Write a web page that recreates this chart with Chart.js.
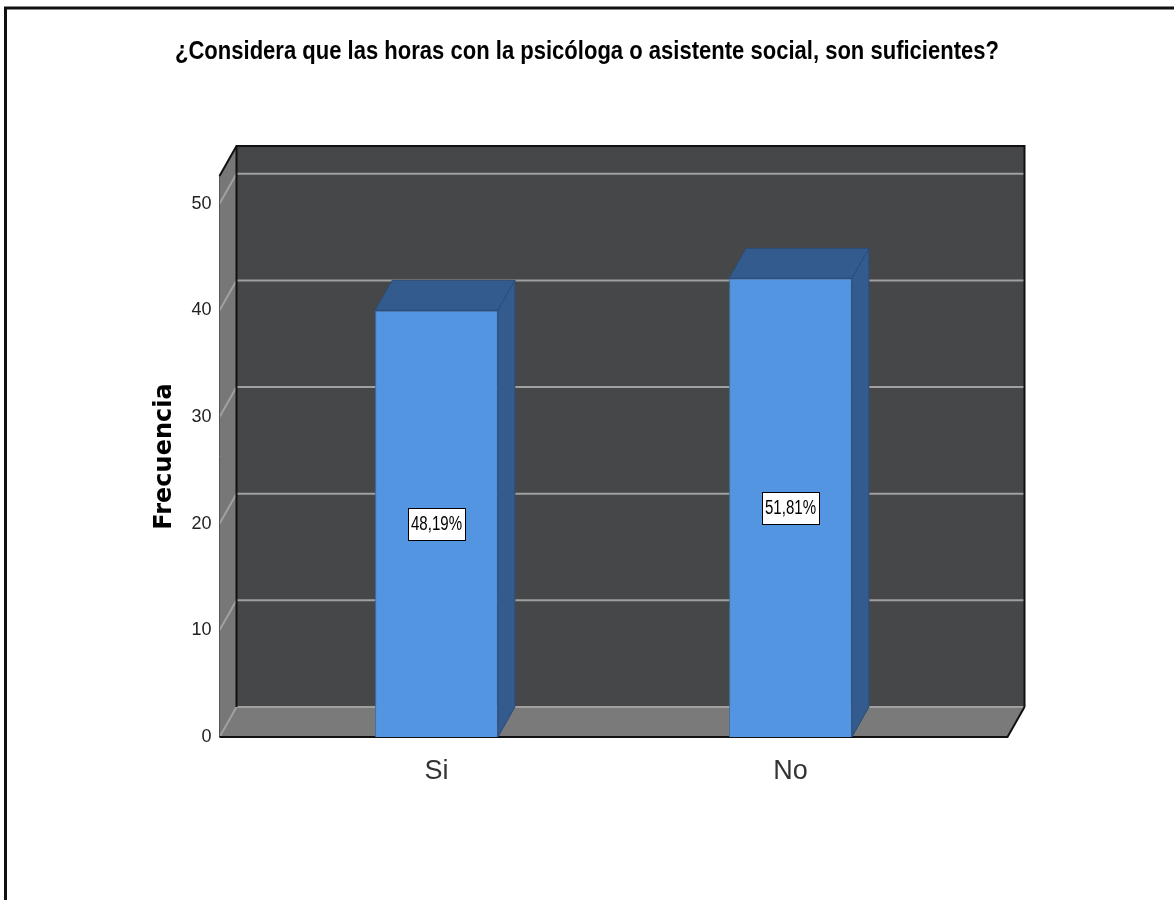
<!DOCTYPE html>
<html>
<head>
<meta charset="utf-8">
<script src="https://cdn.jsdelivr.net/npm/chart.js@4.4.1/dist/chart.umd.min.js"></script>
<style>
  html, body { margin: 0; padding: 0; background: #fff; }
  #wrap { width: 1174px; height: 900px; }
</style>
</head>
<body>
<div id="wrap"><canvas id="chart1" width="1174" height="900"></canvas></div>
<script>
// data
var categories = ['Si', 'No'];
var frecuencias = [40, 43];
var porcentajes = ['48,19%', '51,81%'];
var yTicks = [0, 10, 20, 30, 40, 50];

var FONT = "'Liberation Sans', Arial, sans-serif";
var DX = 17, DY = -30, EXT = 40;   // fake depth of the 3d box

function poly(ctx, pts, fill, stroke) {
  ctx.beginPath();
  ctx.moveTo(pts[0][0], pts[0][1]);
  for (var i = 1; i < pts.length; i++) ctx.lineTo(pts[i][0], pts[i][1]);
  ctx.closePath();
  if (fill) { ctx.fillStyle = fill; ctx.fill(); }
  if (stroke) { ctx.strokeStyle = stroke; ctx.lineWidth = 1; ctx.stroke(); }
}

function line(ctx, pts, color, w) {
  ctx.beginPath();
  ctx.moveTo(pts[0][0], pts[0][1]);
  for (var i = 1; i < pts.length; i++) ctx.lineTo(pts[i][0], pts[i][1]);
  ctx.strokeStyle = color;
  ctx.lineWidth = w;
  ctx.stroke();
}

var box3d = {
  id: 'box3d',
  beforeDraw: function(chart) {
    var ctx = chart.ctx;
    ctx.save();
    ctx.fillStyle = '#fff';
    ctx.fillRect(0, 0, chart.width, chart.height);
    line(ctx, [[5.5, chart.height], [5.5, 8], [chart.width, 8]], '#111', 3);
    ctx.restore();
  },
  beforeDatasetsDraw: function(chart) {
    var ctx = chart.ctx, a = chart.chartArea, ys = chart.scales.y;
    var l = a.left - EXT, r = a.right + EXT, t = a.top, b = a.bottom;
    ctx.save();
    // back wall
    ctx.fillStyle = '#464749';
    ctx.fillRect(l + DX, t + DY, r - l, b - t);
    // left wall + floor
    poly(ctx, [[l, t], [l + DX, t + DY], [l + DX, b + DY], [l, b]], '#777777');
    poly(ctx, [[l, b], [l + DX, b + DY], [r + DX, b + DY], [r, b]], '#7a7a7a');
    // grid lines on left wall and back wall
    yTicks.forEach(function(v) {
      var y = ys.getPixelForValue(v);
      line(ctx, [[l, y], [l + DX, y + DY], [r + DX, y + DY]], '#a0a0a0', 2);
    });
    // edges
    line(ctx, [[l, b], [l, t]], '#555', 1);
    line(ctx, [[l, t], [l + DX, t + DY], [r + DX, t + DY], [r + DX, b + DY]], '#111', 2);
    line(ctx, [[l + DX, t + DY], [l + DX, b + DY]], '#111', 2);
    line(ctx, [[l, b], [r, b], [r + DX, b + DY]], '#111', 2);
    ctx.restore();
  },
  afterDatasetsDraw: function(chart) {
    var ctx = chart.ctx, ys = chart.scales.y;
    var meta = chart.getDatasetMeta(0);
    ctx.save();
    meta.data.forEach(function(bar, i) {
      var p = bar.getProps(['x', 'y', 'base', 'width'], true);
      var x0 = p.x - p.width / 2, x1 = p.x + p.width / 2;
      // top and side faces
      poly(ctx, [[x0, p.y], [x0 + DX, p.y + DY], [x1 + DX, p.y + DY], [x1, p.y]], '#345b8e', '#2b4d7a');
      poly(ctx, [[x1, p.y], [x1 + DX, p.y + DY], [x1 + DX, p.base + DY], [x1, p.base]], '#345b8e', '#2b4d7a');
      // percent label in a white box (text squeezed like the narrow SPSS font)
      var cy = ys.getPixelForValue(frecuencias[i] / 2);
      var tw = 51, bw = 57, bh = 32;
      var bx = Math.round(p.x - bw / 2) + 0.5, by = Math.round(cy - bh / 2) + 0.5;
      ctx.fillStyle = '#fff';
      ctx.fillRect(bx, by, bw, bh);
      ctx.strokeStyle = '#000';
      ctx.lineWidth = 1;
      ctx.strokeRect(bx, by, bw, bh);
      ctx.font = '20px ' + FONT;
      ctx.fillStyle = '#000';
      ctx.textAlign = 'center';
      ctx.textBaseline = 'middle';
      ctx.fillText(porcentajes[i], p.x, cy + 1, tw);
    });
    ctx.restore();
  }
};

new Chart('chart1', {
  type: 'bar',
  data: {
    labels: categories,
    datasets: [{
      data: frecuencias,
      backgroundColor: '#5495e2',
      borderColor: '#3f6fa8',
      borderWidth: 1,
      categoryPercentage: 1,
      barPercentage: 0.347
    }]
  },
  options: {
    responsive: false,
    animation: false,
    layout: { padding: { left: 175, right: 175, top: 0, bottom: 0 } },
    plugins: {
      legend: { display: false },
      tooltip: { enabled: false },
      title: {
        display: true,
        text: '¿Considera que las horas con la psicóloga o asistente social, son suficientes?',
        color: '#000',
        font: { family: FONT, size: 25, weight: 'bold' },
        padding: { top: 37, bottom: 109 }
      }
    },
    scales: {
      x: {
        grid: { display: false, drawTicks: false },
        border: { display: false },
        ticks: { padding: 18, color: '#333', font: { family: FONT, size: 27 } },
        afterFit: function(s) { s.height = 163; }
      },
      y: {
        min: 0,
        max: 52.6,
        grid: { display: false, drawTicks: false },
        border: { display: false },
        afterBuildTicks: function(s) { s.ticks = yTicks.map(function(v) { return { value: v }; }); },
        afterFit: function(s) { s.width = 84.5; },
        ticks: { padding: 48, color: '#222', font: { family: FONT, size: 18 } },
        title: {
          display: true,
          text: 'Frecuencia',
          color: '#000',
          padding: { top: -25 },
          font: { family: "'DejaVu Sans', sans-serif", size: 24, weight: 'bold' }
        }
      },
      // empty right-hand axis, only keeps the plot box where SPSS put it
      yr: {
        position: 'right',
        display: true,
        grid: { display: false, drawTicks: false },
        border: { display: false },
        ticks: { display: false },
        afterFit: function(s) { s.width = 31.5; }
      }
    }
  },
  plugins: [box3d]
});
</script>
</body>
</html>
